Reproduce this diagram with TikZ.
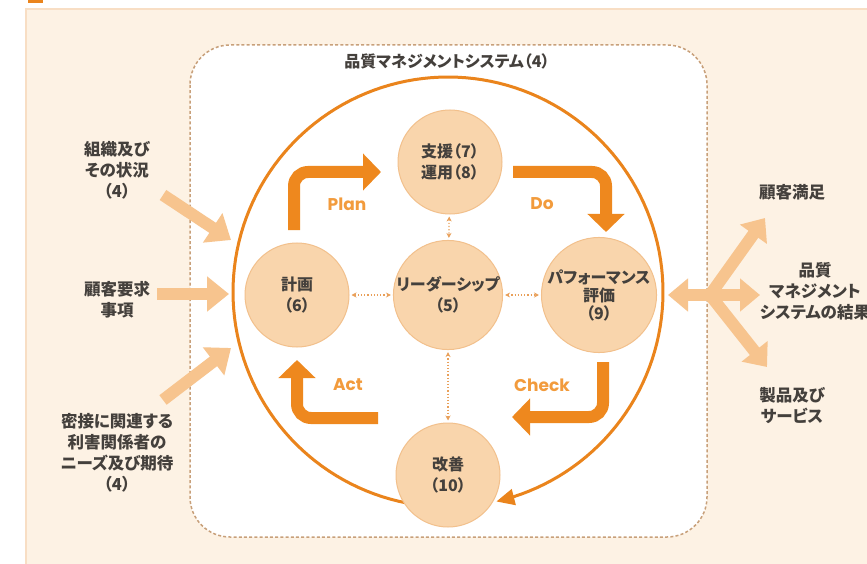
\documentclass[tikz,border=0pt]{standalone}
\usepackage{fontspec}
\setmainfont{Noto Sans CJK JP}[RawFeature=+palt]
\newfontfamily\pdcafont{Poppins}
\usetikzlibrary{arrows.meta}
\definecolor{panel}{RGB}{253,242,228}
\definecolor{paneledge}{RGB}{248,222,196}
\definecolor{ring}{RGB}{234,132,28}
\definecolor{bigarrow}{RGB}{238,136,30}
\definecolor{lightarrow}{RGB}{247,196,142}
\definecolor{nodefill}{RGB}{249,213,172}
\definecolor{nodeedge}{RGB}{242,192,140}
\definecolor{dashcol}{RGB}{200,160,122}
\definecolor{dotcol}{RGB}{233,160,90}
\definecolor{txt}{RGB}{68,64,60}
\definecolor{pdcatxt}{RGB}{242,155,60}
\begin{document}
\begin{tikzpicture}[x=1pt,y=-1pt,
 proc/.style={circle,fill=nodefill,draw=nodeedge,line width=1pt,minimum size=104pt,inner sep=0pt,align=center,font=\bfseries\fontsize{16}{21}\selectfont,text=txt},
 sidetext/.style={align=center,font=\bfseries\fontsize{16.5}{21}\selectfont,text=txt,inner sep=0pt},
 pdca/.style={line width=12pt,draw=bigarrow,rounded corners=14pt,-{Triangle[width=36pt,length=18pt]}},
 inarrow/.style={line width=12pt,draw=lightarrow,-{Triangle[width=34pt,length=22pt]}},
 outarrow/.style={line width=12pt,draw=lightarrow},
 link/.style={draw=dotcol,line width=1.2pt,dotted,{Stealth[length=5pt,width=5pt]}-{Stealth[length=5pt,width=5pt]},shorten >=2pt,shorten <=2pt},
 pdcalabel/.style={font=\pdcafont\bfseries\fontsize{17}{18}\selectfont,text=pdcatxt}]
\useasboundingbox (0,0) rectangle (867,564);
% panel
\fill[white] (0,0) rectangle (867,564);
\fill[panel] (25,8) rectangle (870,570);
\draw[paneledge,line width=2pt] (26,570) -- (26,9) -- (870,9);
\fill[ring] (28,-5) rectangle (43,3);
% system frame
\draw[dashcol,line width=1.5pt,dash pattern=on 3pt off 2.2pt,fill=white,rounded corners=40pt] (190,45) rectangle (707,537);
\node[font=\bfseries\fontsize{16}{18}\selectfont,text=txt] (title) at (447,61) {品質マネジメントシステム（4）};
% ring
\draw[ring,line width=3pt,-{Triangle[width=16pt,length=18pt]}] plot[domain=101:437,samples=150] ({448+215*cos(\x)},{292+215*sin(\x)});
% nodes
\node[proc] (sup) at (450,162) {支援（7）\\運用（8）};
\node[proc] (plan) at (297,295) {計画\\（6）};
\node[proc] (lead) at (448,295) {リーダーシップ\\（5）};
\node[proc,font=\bfseries\fontsize{16}{18}\selectfont] (perf) at (599,295) {パフォーマンス\\評価\\（9）};
\node[proc] (imp) at (448,475) {改善\\（10）};
% links
\draw[link] (sup) -- (lead);
\draw[link] (plan) -- (lead);
\draw[link] (lead) -- (perf);
\draw[link] (lead) -- (imp);
% PDCA arrows
\coordinate (pA) at (294,230); \coordinate (pB) at (381,172);
\coordinate (dA) at (513,172); \coordinate (dB) at (606,232);
\coordinate (cA) at (603,362); \coordinate (cB) at (512,417);
\coordinate (aA) at (378,418); \coordinate (aB) at (297,360);
\draw[pdca] (pA) |- (pB);
\draw[pdca] (dA) -| (dB);
\draw[pdca] (cA) |- (cB);
\draw[pdca] (aA) -| (aB);
\node[pdcalabel] (lp) at (347,204) {Plan};
\node[pdcalabel] (ld) at (542,204) {Do};
\node[pdcalabel] (lc) at (542,385) {Check};
\node[pdcalabel] (la) at (348,385) {Act};
% inputs
\node[sidetext] (ctx) at (117,170) {組織及び\\その状況\\（4）};
\node[sidetext] (req) at (117,300) {顧客要求\\事項};
\node[sidetext] (need) at (117,453) {密接に関連する\\利害関係者の\\ニーズ及び期待\\（4）};
\coordinate (i1s) at (163,195); \coordinate (i1e) at (231,240);
\coordinate (i2s) at (157,294); \coordinate (i2e) at (229,294);
\coordinate (i3s) at (163,400); \coordinate (i3e) at (231,348);
\draw[inarrow] (i1s) -- (i1e);
\draw[inarrow] (i2s) -- (i2e);
\draw[inarrow] (i3s) -- (i3e);
% outputs
\coordinate (ohub) at (710,295); \coordinate (oleft) at (668,295);
\coordinate (o1) at (765,218); \coordinate (o2) at (760,295); \coordinate (o3) at (767,367);
\draw[outarrow,{Triangle[width=32pt,length=20pt]}-{Triangle[width=32pt,length=20pt]}] (oleft) -- (o2);
\draw[outarrow,-{Triangle[width=32pt,length=20pt]}] (ohub) -- (o1);
\draw[outarrow,-{Triangle[width=32pt,length=20pt]}] (ohub) -- (o3);
\node[sidetext] (sat) at (792,192) {顧客満足};
\node[sidetext] (res) at (815,291) {品質\\マネジメント\\システムの結果};
\node[sidetext] (prod) at (792,406) {製品及び\\サービス};
\end{tikzpicture}
\end{document}
